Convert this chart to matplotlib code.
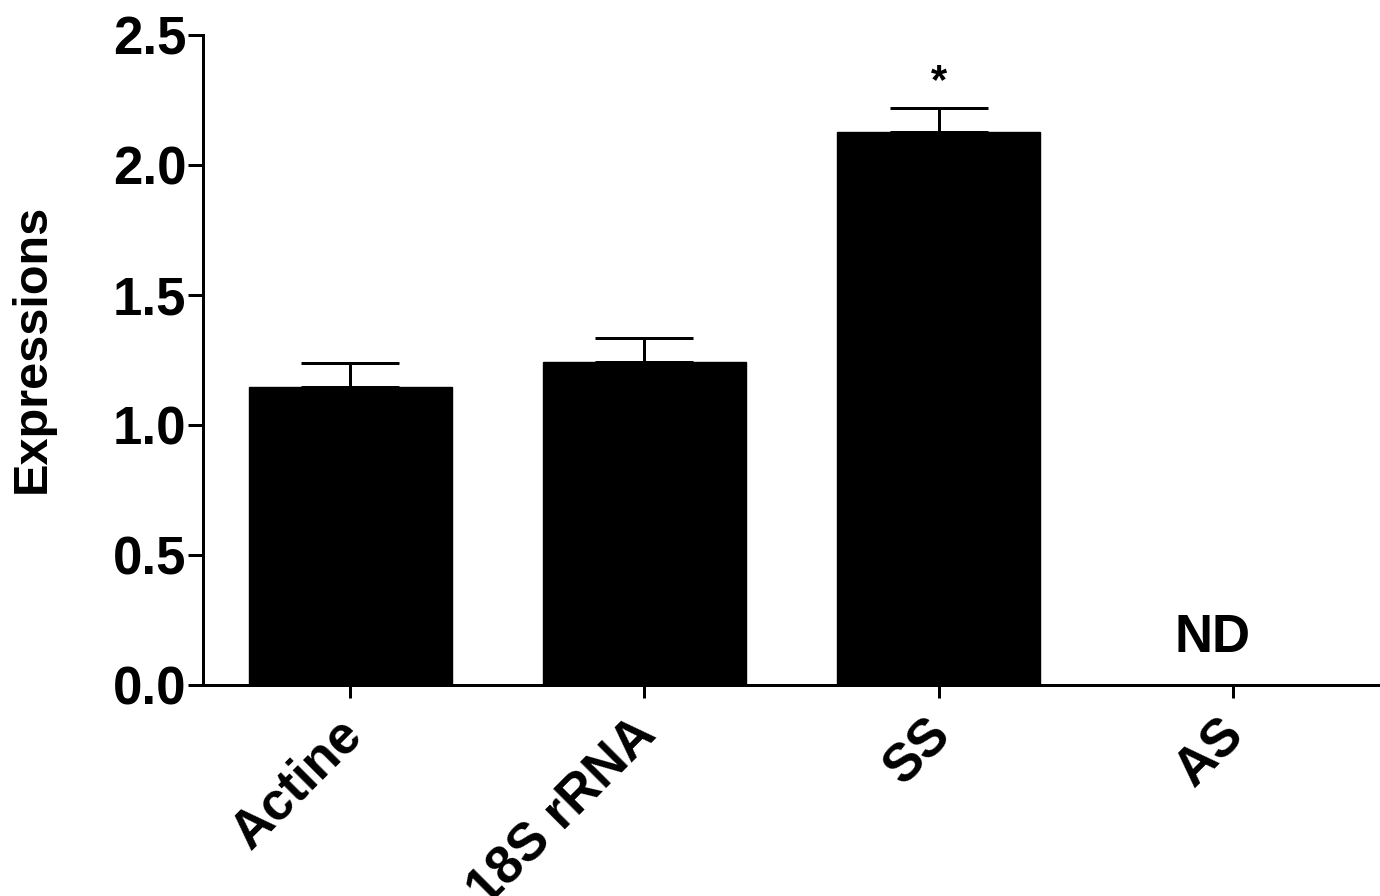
import matplotlib
matplotlib.use("Agg")
import matplotlib.pyplot as plt
import numpy as np

categories = ["Actine", "18S rRNA", "SS", "AS"]
values = [1.145, 1.243, 2.125, 0.0]
errors = [0.092, 0.093, 0.094, 0.0]
annotations = ["", "", "*", "ND"]
yticks = [0.0, 0.5, 1.0, 1.5, 2.0, 2.5]

plt.rcParams['font.family'] = ['Liberation Sans', 'DejaVu Sans']
plt.rcParams['font.weight'] = 'bold'

fig = plt.figure(figsize=(13.8, 8.96), dpi=100)
ax = fig.add_axes([203/1380, (896-685)/896, 1 - 203/1380, (685-35)/896])

x = np.arange(len(categories))
lw = 3.0 * 72 / 100
ax.bar(x, values, width=0.69, color='black', edgecolor='black', zorder=2)
ax.errorbar(x[:3], values[:3], yerr=[np.zeros(3), errors[:3]], fmt='none',
            ecolor='black', elinewidth=lw, capsize=35, capthick=lw, zorder=3)

ax.set_xlim(-0.5, 3.5)
ax.set_ylim(0, 2.5)
ax.set_yticks(yticks)
ax.set_yticklabels([f"{v:.1f}" for v in yticks], fontsize=38, fontweight='bold')
ax.set_xticks(x)
ax.set_xticklabels([])
for xi, name in zip(x, categories):
    ax.annotate(name, (xi, 0), xycoords=('data', 'axes fraction'),
                xytext=(-10, -17.3), textcoords='offset points',
                rotation=45, rotation_mode='anchor', ha='right', va='top',
                fontsize=38, fontweight='bold', annotation_clip=False)

for s in ['top', 'right']:
    ax.spines[s].set_visible(False)
for s in ['left', 'bottom']:
    ax.spines[s].set_linewidth(lw)
ax.tick_params(axis='y', length=11, width=lw, pad=1)
ax.tick_params(axis='x', length=9.5, width=lw, pad=8)

fig.text(32/1380, (896-348)/896, "Expressions", rotation=90, ha='center', va='center',
         fontsize=35, fontweight='bold')

for i, t in enumerate(annotations):
    if t == "*":
        ax.annotate(t, (x[i], values[i] + errors[i]), xytext=(0, 4),
                    textcoords='offset points', ha='center', va='bottom',
                    fontsize=30, fontweight='bold')
    elif t == "ND":
        ax.text(x[i] - 0.07, 0.083, t, ha='center', va='bottom',
                fontsize=38, fontweight='bold')

fig.savefig("out.png", dpi=100)
